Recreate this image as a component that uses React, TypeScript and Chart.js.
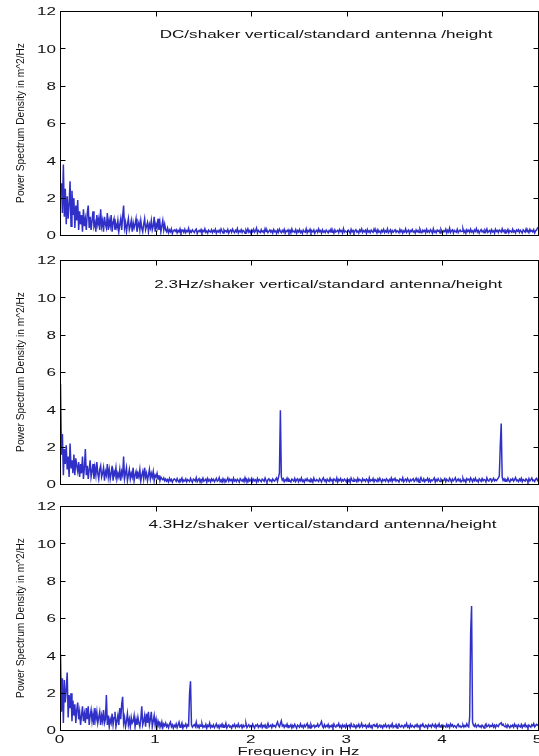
import React, { useEffect, useRef } from 'react';
import { Chart, registerables } from 'chart.js';

Chart.register(...registerables);

// ---------- data ----------
const FREQ_STEP = 0.01; // Hz between PSD samples (0 .. 5 Hz)
const X_TICKS = [0, 1, 2, 3, 4, 5];
const Y_TICKS = [0, 2, 4, 6, 8, 10, 12];

const Y_TITLE = 'Power Spectrum Density in m^2/Hz';
const X_TITLE = 'Frequency in Hz';
const NOTES = [
  'DC/shaker vertical/standard antenna /height',
  '2.3Hz/shaker vertical/standard antenna/height',
  '4.3Hz/shaker vertical/standard antenna/height',
];

const PSD_DC = [
  2.2, 2.8, 1.2, 3.8, 1.0, 2.5, 0.6, 2.1, 0.9, 1.7,
  2.9, 0.5, 2.4, 1.1, 2.0, 0.4, 1.6, 0.8, 1.9, 0.3,
  1.3, 0.6, 1.1, 0.2, 1.4, 0.5, 0.9, 0.3, 1.2, 1.6,
  0.4, 1.0, 0.3, 0.8, 1.3, 0.5, 0.7, 0.2, 1.1, 0.6,
  0.9, 0.3, 1.4, 0.5, 0.8, 0.2, 1.0, 0.6, 0.4, 1.2,
  0.3, 0.8, 0.5, 1.1, 0.2, 0.7, 0.9, 0.3, 0.6, 0.4,
  0.8, 0.2, 0.6, 0.9, 0.3, 1.0, 1.6, 0.4, 0.7, 0.2,
  0.6, 0.9, 0.3, 0.5, 0.8, 0.2, 0.7, 0.4, 0.6, 0.9,
  0.2, 0.5, 0.7, 0.3, 0.8, 0.4, 0.2, 0.6, 0.9, 0.3,
  0.5, 0.7, 0.2, 0.6, 0.4, 0.8, 0.3, 0.5, 1.0, 0.2,
  0.6, 0.4, 0.9, 0.3, 0.7, 0.2, 0.5, 0.8, 0.3, 0.6,
  0.3, 0.2, 0.4, 0.15, 0.3, 0.2, 0.35, 0.1, 0.25, 0.3,
  .22, .31, .14, .27, .19, .35, .12, .24, .29, .17,
  .33, .15, .26, .21, .38, .13, .25, .18, .30, .22,
  .16, .28, .34, .11, .23, .27, .19, .32, .14, .26,
  .21, .36, .17, .24, .13, .29, .22, .18, .31, .15,
  .27, .20, .33, .12, .25, .19, .28, .16, .35, .23,
  .14, .30, .21, .26, .18, .32, .13, .24, .29, .17,
  .34, .22, .15, .28, .20, .37, .14, .25, .19, .31,
  .16, .27, .23, .12, .30, .21, .35, .18, .26, .14,
  .29, .20, .33, .17, .24, .39, .13, .27, .22, .16,
  .31, .19, .25, .14, .36, .21, .28, .15, .23, .30,
  .18, .26, .13, .32, .20, .24, .11, .29, .17, .34,
  .22, .15, .27, .19, .33, .12, .25, .21, .30, .16,
  .28, .14, .35, .20, .23, .17, .31, .13, .26, .19,
  .32, .16, .24, .11, .29, .21, .18, .36, .14, .27,
  .20, .33, .15, .25, .19, .30, .12, .23, .28, .17,
  .35, .21, .26, .13, .31, .18, .24, .16, .29, .22,
  .14, .27, .20, .34, .17, .25, .12, .30, .19, .23,
  .28, .15, .32, .21, .26, .13, .37, .18, .24, .20,
  .16, .29, .23, .11, .33, .19, .27, .14, .25, .31,
  .18, .24, .13, .30, .21, .35, .16, .26, .20, .28,
  .12, .32, .19, .25, .15, .29, .22, .17, .34, .21,
  .27, .14, .31, .18, .24, .13, .28, .20, .33, .16,
  .25, .19, .36, .15, .22, .30, .12, .27, .18, .24,
  .31, .17, .26, .21, .14, .33, .20, .28, .13, .25,
  .19, .35, .16, .23, .29, .12, .26, .21, .32, .18,
  .24, .13, .30, .20, .27, .16, .34, .22, .15, .29,
  .21, .28, .14, .33, .19, .25, .17, .31, .23, .12,
  .36, .18, .24, .15, .29, .22, .27, .13, .32, .20,
  .17, .26, .21, .34, .14, .28, .19, .39, .16, .25,
  .30, .13, .27, .22, .18, .33, .15, .24, .29, .20,
  .23, .35, .16, .26, .12, .31, .21, .28, .17, .34,
  .19, .25, .14, .30, .22, .37, .18, .27, .13, .24,
  .32, .20, .26, .15, .29, .21, .35, .17, .23, .28,
  .14, .31, .19, .25, .12, .33, .22, .27, .16, .30,
  .24, .18, .36, .21, .28, .13, .26, .20, .32, .15,
  .27, .22, .17, .34, .19, .25, .14, .29, .23, .31,
  .16, .28, .21, .13, .30, .24, .18, .35, .20, .26,
  .15, .33, .22, .27, .19, .31, .14, .25, .29, .40,
  .38,
];

const PSD_23HZ = [
  5.4, 1.6, 2.7, 0.5, 1.9, 1.1, 2.1, 0.8, 1.5, 0.4,
  2.2, 0.9, 1.3, 0.6, 1.6, 0.5, 1.4, 1.0, 0.7, 1.2,
  0.4, 1.1, 0.6, 1.5, 0.3, 0.9, 1.9, 0.5, 1.0, 0.3,
  0.8, 1.3, 0.4, 0.7, 1.1, 0.3, 0.9, 0.5, 1.2, 0.6,
  0.3, 0.8, 1.0, 0.4, 0.6, 0.9, 0.2, 0.7, 0.5, 1.1,
  0.4, 0.8, 0.3, 0.6, 1.0, 0.2, 0.7, 0.5, 0.9, 0.3,
  0.6, 0.4, 0.8, 0.2, 0.7, 0.5, 1.5, 0.3, 0.6, 0.9,
  0.2, 0.5, 0.8, 0.3, 0.6, 0.4, 0.9, 0.2, 0.5, 0.7,
  0.3, 0.6, 0.4, 0.8, 0.2, 0.5, 0.7, 0.3, 0.9, 0.4,
  0.6, 0.2, 0.5, 0.8, 0.3, 0.6, 0.4, 0.7, 0.2, 0.5,
  0.4, 0.6, 0.3, 0.5, 0.2, 0.4, 0.3, 0.25, 0.35, 0.2,
  0.3, 0.18, 0.26, 0.14, 0.33, 0.2, 0.27, 0.12, 0.24, 0.3,
  .26, .17, .32, .20, .13, .28, .23, .35, .15, .24,
  .19, .30, .14, .27, .22, .16, .33, .21, .12, .29,
  .25, .18, .36, .15, .24, .31, .13, .27, .20, .34,
  .17, .23, .29, .12, .32, .19, .26, .14, .30, .21,
  .28, .15, .24, .33, .18, .22, .37, .16, .25, .13,
  .31, .20, .27, .14, .23, .35, .17, .29, .21, .26,
  .12, .34, .19, .25, .16, .28, .22, .13, .31, .24,
  .18, .27, .15, .36, .21, .26, .14, .30, .19, .23,
  .33, .16, .28, .20, .25, .12, .32, .18, .27, .22,
  .15, .29, .24, .17, .34, .21, .13, .26, .31, .19,
  .24, .14, .30, .22, .18, .27, .35, .16, .38, .62,
  3.98, .42, .23, .31, .15, .26, .19, .34, .17, .28,
  .21, .13, .29, .24, .18, .33, .16, .25, .30, .14,
  .27, .20, .35, .17, .23, .12, .28, .21, .32, .19,
  .24, .15, .30, .26, .13, .34, .20, .18, .27, .22,
  .16, .31, .23, .14, .28, .36, .19, .25, .12, .29,
  .22, .17, .33, .20, .26, .15, .30, .24, .18, .35,
  .13, .27, .21, .32, .16, .25, .19, .29, .23, .14,
  .30, .18, .26, .12, .34, .22, .17, .28, .20, .25,
  .15, .33, .19, .27, .23, .14, .31, .21, .26, .17,
  .29, .24, .13, .36, .18, .25, .20, .32, .15, .27,
  .22, .16, .30, .19, .34, .23, .12, .28, .21, .26,
  .17, .31, .24, .14, .27, .20, .35, .16, .29, .23,
  .33, .18, .25, .21, .13, .30, .26, .19, .36, .15,
  .24, .28, .17, .32, .22, .14, .27, .20, .25, .31,
  .16, .23, .34, .19, .29, .12, .26, .37, .21, .18,
  .30, .15, .25, .22, .33, .17, .28, .14, .24, .20,
  .27, .35, .13, .26, .19, .31, .22, .16, .29, .23,
  .18, .24, .32, .15, .28, .21, .17, .34, .25, .13,
  .29, .20, .26, .36, .16, .23, .30, .19, .27, .14,
  .22, .33, .18, .25, .12, .31, .24, .28, .17, .35,
  .26, .15, .29, .21, .34, .19, .23, .13, .30, .24,
  .17, .32, .20, .27, .25, .14, .36, .22, .18, .29,
  .31, .16, .24, .33, .19, .26, .21, .28, .35, .45,
  2.06, 3.27, .40, .22, .30, .17, .25, .19, .34, .21,
  .14, .28, .23, .31, .18, .26, .37, .20, .24, .16,
  .29, .21, .33, .15, .27, .22, .18, .30, .25, .13,
  .32, .19, .26, .35, .20, .24, .16, .28, .33, .22,
  .30,
];

const PSD_43HZ = [
  4.1, 1.0, 2.8, 0.4, 2.7, 1.5, 2.2, 3.1, 0.7, 1.9,
  1.2, 2.0, 0.5, 1.6, 0.8, 1.4, 0.4, 1.1, 1.5, 0.6,
  1.0, 0.3, 0.8, 1.3, 0.5, 0.9, 0.4, 1.2, 0.6, 1.3,
  0.3, 0.8, 1.1, 0.5, 0.9, 0.3, 1.2, 0.6, 1.0, 0.4,
  0.7, 1.0, 0.3, 0.8, 0.5, 1.1, 0.4, 0.6, 1.9, 0.3,
  0.8, 0.2, 0.6, 0.4, 0.9, 0.3, 0.7, 1.0, 0.2, 0.5,
  0.8, 0.3, 1.2, 0.6, 1.4, 1.8, 0.4, 0.7, 0.2, 0.5,
  0.9, 0.3, 0.6, 0.2, 0.7, 0.4, 0.5, 0.8, 0.2, 0.6,
  0.3, 0.7, 0.4, 0.2, 0.6, 1.3, 0.3, 0.5, 0.8, 0.2,
  0.9, 0.4, 1.0, 0.3, 0.6, 1.0, 0.2, 0.5, 0.8, 0.3,
  0.6, 0.2, 0.5, 0.3, 0.4, 0.2, 0.45, 0.15, 0.35, 0.25,
  0.4, 0.2, 0.3, 0.15, 0.35, 0.45, 0.2, 0.3, 0.12, 0.28,
  .20, .35, .15, .30, .45, .18, .25, .40, .12, .28,
  .22, .35, .17, .30, .25, 2.0, 2.64, .30, .18, .26,
  .32, .21, .45, .18, .27, .14, .30, .23, .36, .17,
  .25, .19, .33, .12, .28, .22, .40, .16, .26, .20,
  .31, .15, .24, .35, .18, .27, .13, .29, .21, .34,
  .17, .26, .20, .38, .14, .25, .30, .19, .23, .12,
  .28, .22, .33, .16, .27, .21, .35, .18, .24, .30,
  .14, .29, .19, .25, .37, .15, .23, .31, .20, .26,
  .18, .34, .22, .13, .28, .24, .32, .17, .26, .21,
  .35, .16, .27, .20, .30, .14, .25, .38, .19, .23,
  .29, .15, .31, .22, .26, .18, .33, .45, .27, .20,
  .36, .52, .24, .30, .17, .28, .21, .34, .16, .25,
  .22, .31, .14, .27, .19, .33, .23, .12, .29, .24,
  .18, .35, .21, .26, .15, .30, .20, .28, .37, .16,
  .27, .13, .32, .19, .24, .29, .17, .25, .22, .34,
  .20, .26, .36, .48, .23, .15, .31, .18, .27, .21,
  .33, .16, .25, .20, .29, .14, .34, .22, .18, .28,
  .24, .37, .19, .26, .13, .30, .21, .27, .16, .32,
  .18, .25, .29, .15, .35, .22, .20, .31, .26, .14,
  .28, .21, .33, .17, .24, .38, .19, .27, .23, .30,
  .15, .26, .20, .34, .18, .25, .13, .29, .32, .21,
  .27, .35, .16, .23, .30, .19, .26, .14, .28, .22,
  .33, .18, .24, .29, .15, .27, .21, .36, .17, .25,
  .20, .31, .13, .26, .34, .22, .19, .28, .24, .16,
  .29, .23, .37, .18, .25, .14, .32, .20, .27, .21,
  .16, .28, .22, .33, .19, .26, .15, .30, .24, .35,
  .21, .17, .29, .25, .13, .31, .23, .27, .18, .34,
  .26, .20, .32, .15, .28, .22, .36, .19, .25, .30,
  .14, .27, .23, .18, .33, .21, .29, .16, .35, .24,
  .31, .19, .26, .22, .15, .28, .34, .20, .25, .17,
  .23, .30, .18, .27, .21, .36, .24, .19, .70, 5.17,
  6.67, .45, .28, .22, .33, .18, .26, .31, .20, .25,
  .17, .29, .23, .14, .27, .35, .20, .24, .31, .19,
  .26, .22, .33, .18, .28, .15, .30, .25, .21, .34,
  .36, .42, .28, .33, .24, .20, .27, .17, .31, .22,
  .15, .26, .21, .29, .18, .34, .23, .27, .13, .30,
  .24, .19, .32, .16, .28, .22, .35, .20, .26, .14,
  .29, .23, .18, .31, .25, .37, .20, .27, .33, .28,
  .30,
];

// ---------- styling ----------
const LINE_COLOR = '#3030c8';
const FONT = "'Liberation Sans', Arial, Helvetica, sans-serif";
const TICK_LEN = 5;

type PanelCfg = {
  values: number[];
  note: string;
  noteX: number;
  noteY: number;
  top: number;
  height: number;
  padTop: number;
  xAxisH: number;
  showX: boolean;
};

const PANELS: PanelCfg[] = [
  { values: PSD_DC, note: NOTES[0], noteX: 1.038, noteY: 10.6, top: 0, height: 248, padTop: 11.5, xAxisH: 12.5, showX: false },
  { values: PSD_23HZ, note: NOTES[1], noteX: 0.981, noteY: 10.54, top: 248, height: 248, padTop: 12.5, xAxisH: 11.5, showX: false },
  { values: PSD_43HZ, note: NOTES[2], noteX: 0.921, noteY: 10.83, top: 496, height: 264, padTop: 10.5, xAxisH: 29.5, showX: true },
];

function stretchedText(
  ctx: CanvasRenderingContext2D,
  text: string,
  x: number,
  y: number,
  size: number,
  sx: number,
  align: CanvasTextAlign,
  color: string
) {
  ctx.save();
  ctx.font = `${size}px ${FONT}`;
  ctx.fillStyle = color;
  ctx.textAlign = align;
  ctx.textBaseline = 'alphabetic';
  ctx.translate(x, y);
  ctx.scale(sx, 1);
  ctx.fillText(text, 0, 0);
  ctx.restore();
}

function makeFramePlugin(p: PanelCfg) {
  return {
    id: 'matlabFrame',
    afterDraw(chart: any) {
      const ctx: CanvasRenderingContext2D = chart.ctx;
      const a = chart.chartArea;
      const xs = chart.scales.x;
      const ys = chart.scales.y;
      ctx.save();
      ctx.strokeStyle = '#000';
      ctx.lineWidth = 1;
      ctx.strokeRect(a.left, a.top, a.right - a.left, a.bottom - a.top);
      ctx.beginPath();
      for (const t of xs.ticks) {
        const px = Math.round(xs.getPixelForValue(t.value) - 0.5) + 0.5;
        ctx.moveTo(px, a.bottom);
        ctx.lineTo(px, a.bottom - TICK_LEN);
        ctx.moveTo(px, a.top);
        ctx.lineTo(px, a.top + TICK_LEN);
      }
      for (const t of ys.ticks) {
        const py = Math.round(ys.getPixelForValue(t.value) - 0.5) + 0.5;
        ctx.moveTo(a.left, py);
        ctx.lineTo(a.left + TICK_LEN, py);
        ctx.moveTo(a.right, py);
        ctx.lineTo(a.right - TICK_LEN, py);
      }
      ctx.stroke();
      ctx.restore();

      // y tick labels
      for (const t of ys.ticks) {
        const py = ys.getPixelForValue(t.value);
        stretchedText(ctx, String(t.value), 56, py + 3.9, 11, 1.55, 'right', '#111');
      }
      // x tick labels + x title (bottom panel only)
      if (p.showX) {
        for (const t of xs.ticks) {
          const px = xs.getPixelForValue(t.value);
          stretchedText(ctx, String(t.value), px - 1, a.bottom + 12, 11, 1.55, 'center', '#111');
        }
        stretchedText(ctx, X_TITLE, (a.left + a.right) / 2 - 1, a.bottom + 24.5, 11.4, 1.47, 'center', '#111');
      }
      // y title (rotated)
      ctx.save();
      ctx.font = `10.4px ${FONT}`;
      ctx.fillStyle = '#111';
      ctx.textAlign = 'center';
      ctx.textBaseline = 'alphabetic';
      ctx.translate(24, (a.top + a.bottom) / 2 - 0.5);
      ctx.rotate(-Math.PI / 2);
      ctx.scale(0.98, 1.1);
      ctx.fillText(Y_TITLE, 0, 0);
      ctx.restore();
      // panel note
      stretchedText(ctx, p.note, xs.getPixelForValue(p.noteX), ys.getPixelForValue(p.noteY), 10.8, 1.58, 'left', '#111');
    },
  };
}

function Panel({ cfg }: { cfg: PanelCfg }) {
  const ref = useRef<HTMLCanvasElement>(null);
  useEffect(() => {
    const canvas = ref.current;
    if (!canvas) return;
    const points = cfg.values.map((v, i) => ({ x: Math.round(i * FREQ_STEP * 100) / 100, y: v }));
    const chart = new Chart(canvas, {
      type: 'line',
      data: {
        datasets: [
          {
            data: points,
            borderColor: LINE_COLOR,
            borderWidth: 1.5,
            pointRadius: 0,
            tension: 0,
            fill: false,
          },
        ],
      },
      options: {
        animation: false,
        responsive: false,
        maintainAspectRatio: false,
        devicePixelRatio: 1,
        events: [],
        layout: { padding: { top: cfg.padTop, right: 0.5, left: 0, bottom: 0 } },
        plugins: {
          legend: { display: false },
          tooltip: { enabled: false },
          title: { display: false },
        },
        scales: {
          x: {
            type: 'linear',
            min: 0,
            max: 5,
            afterBuildTicks: (s: any) => {
              s.ticks = X_TICKS.map((v) => ({ value: v }));
            },
            ticks: { display: false },
            grid: { display: false, drawTicks: false },
            border: { display: false },
            afterFit: (s: any) => {
              s.height = cfg.xAxisH;
            },
          },
          y: {
            type: 'linear',
            min: 0,
            max: 12,
            afterBuildTicks: (s: any) => {
              s.ticks = Y_TICKS.map((v) => ({ value: v }));
            },
            ticks: { display: false },
            grid: { display: false, drawTicks: false },
            border: { display: false },
            afterFit: (s: any) => {
              s.width = 60.5;
            },
          },
        },
      } as any,
      plugins: [makeFramePlugin(cfg)],
    });
    return () => chart.destroy();
  }, [cfg]);
  return (
    <canvas
      ref={ref}
      width={539}
      height={cfg.height}
      style={{ position: 'absolute', left: 0, top: cfg.top, width: 539, height: cfg.height }}
    />
  );
}

export default function App() {
  return (
    <div
      style={{
        position: 'absolute',
        left: 0,
        top: 0,
        width: 539,
        height: 756,
        overflow: 'hidden',
        background: '#ffffff',
      }}
    >
      {PANELS.map((p, i) => (
        <Panel key={i} cfg={p} />
      ))}
    </div>
  );
}
